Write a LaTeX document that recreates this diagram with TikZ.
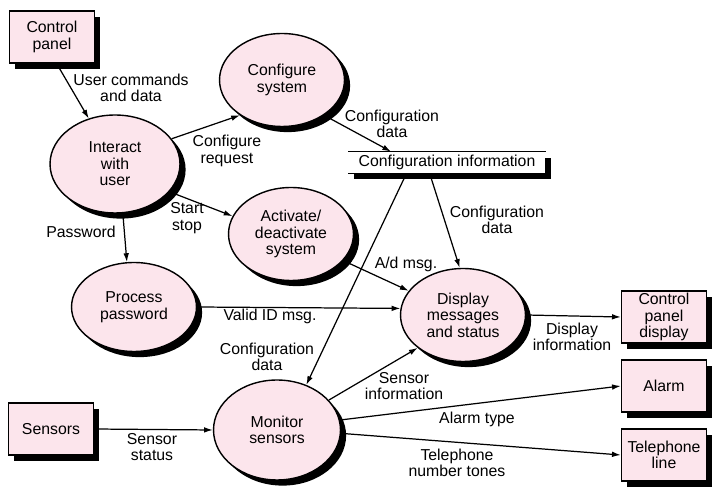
\documentclass[tikz,border=0pt]{standalone}
\usepackage{fontspec}
\setmainfont{Liberation Sans}
\usetikzlibrary{shapes,shapes.geometric,arrows.meta,shadows}
\definecolor{bubblepink}{RGB}{252,229,236}

\begin{document}
\begin{tikzpicture}
	[x=0.02cm,y=-0.02cm,
	every node/.style={font=\fontsize{9}{9.4}\selectfont,align=center,inner sep=0pt},
	blackshadow/.style={drop shadow={shadow xshift=3.2pt,shadow yshift=-3.2pt,fill=black,opacity=1}},
	process/.style={shape=ellipse,draw,line width=0.8pt,fill=bubblepink,
		minimum width=2.5cm,minimum height=1.86cm,blackshadow},
	entity/.style={shape=rectangle,draw,line width=0.8pt,fill=bubblepink,
		minimum width=1.7cm,minimum height=1.04cm,blackshadow},
	store/.style={shape=rectangle,fill=white,minimum width=3.94cm,
		minimum height=0.42cm,blackshadow},
	flow/.style={-{Latex[length=5pt,width=3.2pt]},line width=0.7pt}]
	\useasboundingbox (0,0) rectangle (724,499);
	
	\node[entity] (cp) at (52,37) {Control\\panel};
	\node[entity] (sens) at (51,429) {Sensors};
	\node[entity] (cpd) at (664,317) {Control\\panel\\display};
	\node[entity] (alarm) at (664,386) {Alarm};
	\node[entity] (tel) at (664,455) {Telephone\\line};
	
	\node[process,minimum width=2.6cm,minimum height=1.96cm] (iu) at (115,164) {Interact\\with\\user};
	\node[process] (cfg) at (282,80) {Configure\\system};
	\node[process] (act) at (291,234) {Activate/\\deactivate\\system};
	\node[process,minimum height=1.78cm] (pp) at (134,307) {Process\\password};
	\node[process] (disp) at (463,315) {Display\\messages\\and status};
	\node[process,minimum width=2.54cm,minimum height=2cm] (mon) at (277,430) {Monitor\\sensors};
	
	\node[store] (store) at (447,162.5) {Configuration information};
	\draw[line width=0.8pt] (store.north west) -- (store.north east)
		(store.south west) -- (store.south east);
	
	\path[flow]
	\foreach \startNode/\endNode in {cp.-80/iu.120, iu.24/cfg.220, cfg.-40/store.169,
		iu.-27/act.163, iu.-81/pp.99, store.-148/disp.94, store.-165/mon.57,
		act.-27/disp.156, pp.east/disp.174, disp.east/cpd.west, mon.30/disp.216,
		mon.9/alarm.west, mon.-3/tel.west, sens.east/mon.west}
	{
		(\startNode) edge (\endNode)
	};
	
	\node (lcmd) at (131,88) {User commands\\and data};
	\node (lreq) at (227,151) {Configure\\request};
	\node (lcfg1) at (392,124) {Configuration\\data};
	\node (lss) at (187,218) {Start\\stop};
	\node (lpw) at (81,232) {Password};
	\node (lcfg2) at (497,220) {Configuration\\data};
	\node (lad) at (406,264) {A/d msg.};
	\node (lvid) at (270,316) {Valid ID msg.};
	\node (lcfg3) at (267,357) {Configuration\\data};
	\node (ldisp) at (572,337) {Display\\information};
	\node (lsinf) at (404,386) {Sensor\\information};
	\node (latype) at (477,419) {Alarm type};
	\node (ltel) at (457,463) {Telephone\\number tones};
	\node (lsst) at (152,447) {Sensor\\status};
\end{tikzpicture}
\end{document}
